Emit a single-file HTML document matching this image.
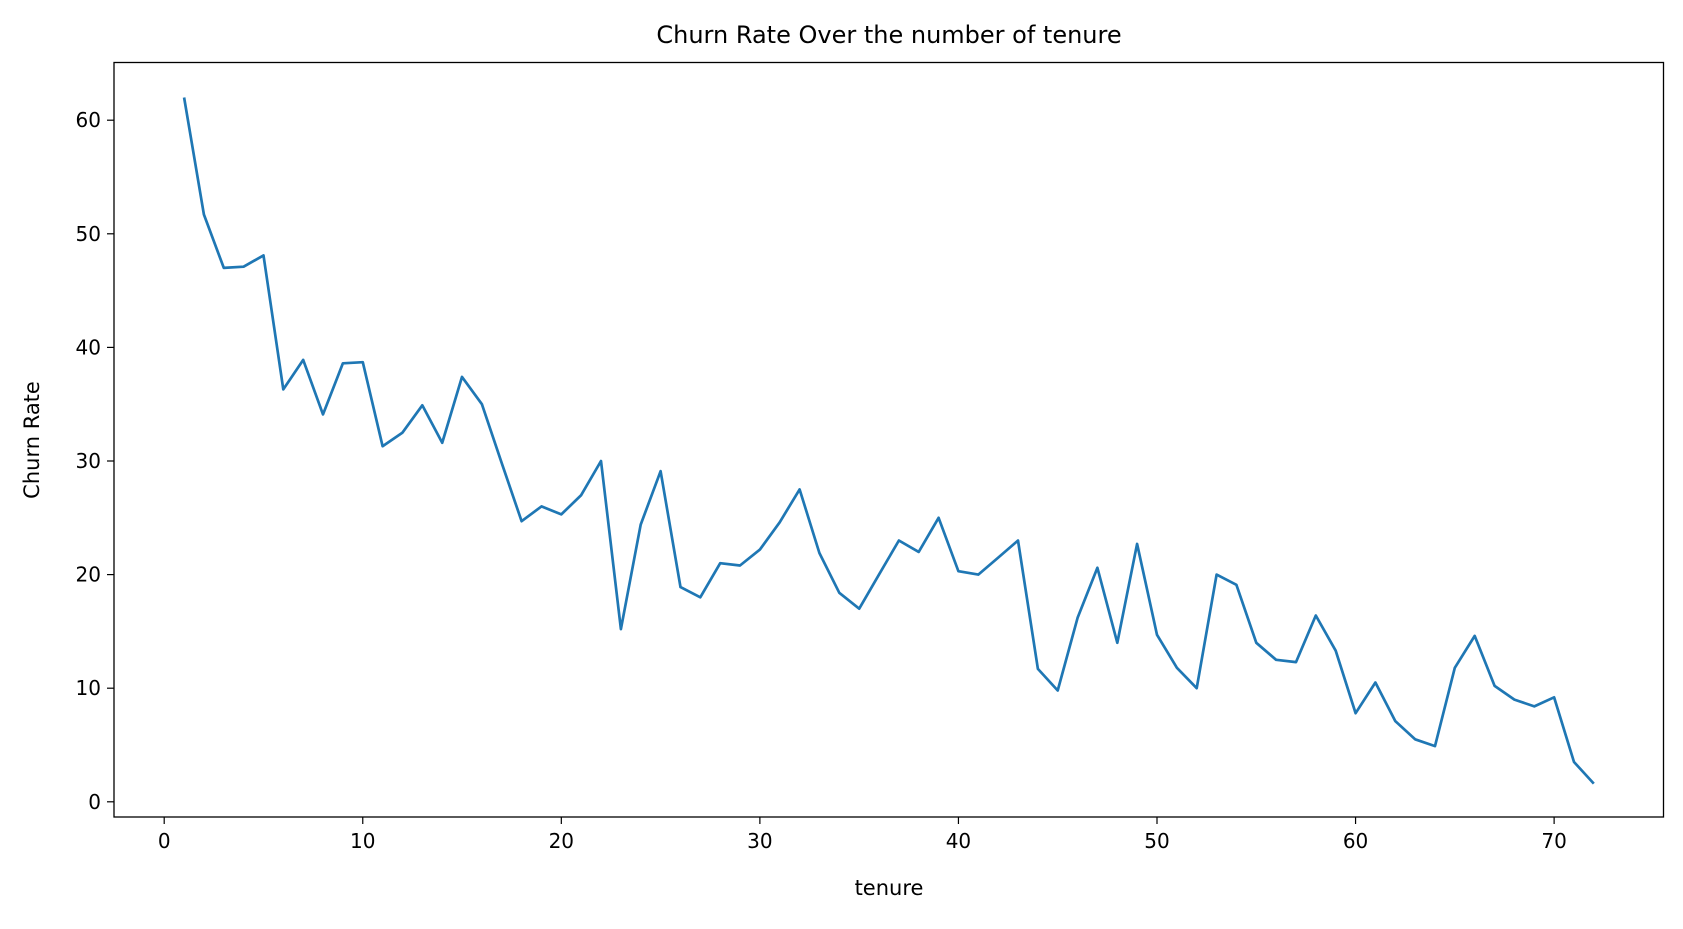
<!DOCTYPE html>
<html><head><meta charset="utf-8"><style>
body{margin:0;background:#fff;width:1683px;height:924px;overflow:hidden}
svg text{font-family:"DejaVu Sans","Liberation Sans",sans-serif;fill:#000}
</style></head><body>
<svg id="chart" width="1683" height="924" viewBox="0 0 1683 924" xmlns="http://www.w3.org/2000/svg">
<rect x="0" y="0" width="1683" height="924" fill="#fff"/>
<text x="889" y="43" font-size="24" text-anchor="middle">Churn Rate Over the number of tenure</text>
<text x="889" y="895" font-size="21" text-anchor="middle">tenure</text>
<text transform="translate(39,440) rotate(-90)" font-size="21" text-anchor="middle">Churn Rate</text>
<g id="ticks"></g>
<path id="line" fill="none" stroke="#1f77b4" stroke-width="2.7" stroke-linejoin="round"/>
<rect x="114" y="62.5" width="1549.5" height="754.5" fill="none" stroke="#000" stroke-width="1.3"/>
</svg>
<script>
const tenure=[];for(let i=1;i<=72;i++)tenure.push(i);
const churnRate=[62.0,51.7,47.0,47.1,48.1,36.3,38.9,34.1,38.6,38.7,31.3,32.5,34.9,31.6,37.4,35.0,29.8,24.7,26.0,25.3,27.0,30.0,15.2,24.4,29.1,18.9,18.0,21.0,20.8,22.2,24.6,27.5,21.9,18.4,17.0,20.0,23.0,22.0,25.0,20.3,20.0,21.5,23.0,11.7,9.8,16.2,20.6,14.0,22.7,14.7,11.8,10.0,20.0,19.1,14.0,12.5,12.3,16.4,13.3,7.8,10.5,7.1,5.5,4.9,11.8,14.6,10.2,9.0,8.4,9.2,3.5,1.6];
const xTicks=[0,10,20,30,40,50,60,70];
const yTicks=[0,10,20,30,40,50,60];
const X=v=>164.2+v*19.856;
const Y=v=>801.8-v*11.36;
const NS="http://www.w3.org/2000/svg";
const g=document.getElementById('ticks');
xTicks.forEach(t=>{
 const l=document.createElementNS(NS,'line');
 
 
 l.setAttribute('x1',X(t));l.setAttribute('x2',X(t));l.setAttribute('y1',817);l.setAttribute('y2',824);l.setAttribute('stroke','#000');l.setAttribute('stroke-width','1.2');g.appendChild(l);
 const tx=document.createElementNS(NS,'text');
 
 
 tx.setAttribute('x',X(t));tx.setAttribute('y',848);tx.setAttribute('font-size','20');tx.setAttribute('text-anchor','middle');tx.textContent=t;g.appendChild(tx);
});
yTicks.forEach(t=>{
 const l=document.createElementNS(NS,'line');
 
 
 l.setAttribute('x1',107);l.setAttribute('x2',114);l.setAttribute('y1',Y(t));l.setAttribute('y2',Y(t));l.setAttribute('stroke','#000');l.setAttribute('stroke-width','1.2');g.appendChild(l);
 const tx=document.createElementNS(NS,'text');
 
 
 tx.setAttribute('x',101);tx.setAttribute('y',Y(t)+7);tx.setAttribute('font-size','20');tx.setAttribute('text-anchor','end');tx.textContent=t;g.appendChild(tx);
});
document.getElementById('line').setAttribute('d',tenure.map((t,i)=>(i?'L':'M')+X(t).toFixed(1)+','+Y(churnRate[i]).toFixed(1)).join(''));
</script>
</body></html>
